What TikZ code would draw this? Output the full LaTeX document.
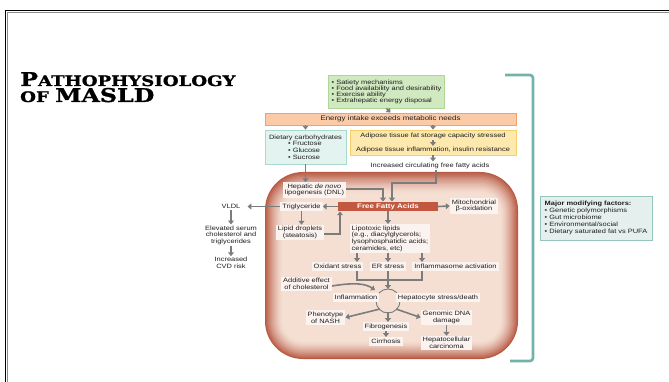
\documentclass[tikz,border=0pt]{standalone}
\usepackage{fontspec}
\usetikzlibrary{arrows.meta,calc}
\newfontfamily\dfam{Liberation Sans}[FakeStretch=1.2]
\newfontfamily\titlefam{DejaVu Serif}[FakeStretch=1.25,BoldFeatures={FakeBold=1.2}]
\newcommand\dsz{\fontsize{6.2}{6.7}\selectfont}
\definecolor{txtc}{HTML}{1E1E1E}
\definecolor{gfill}{HTML}{D1E9C0}\definecolor{gdraw}{HTML}{ADD697}
\definecolor{ofill}{HTML}{FBCBA7}\definecolor{odraw}{HTML}{F5A06A}
\definecolor{bfill}{HTML}{E2F3F0}\definecolor{bdraw}{HTML}{A9D8CF}
\definecolor{yfill}{HTML}{FDE8AE}\definecolor{ydraw}{HTML}{F6CE6A}
\definecolor{boxf}{HTML}{FBF3EF}
\definecolor{ffac}{HTML}{C1583F}
\definecolor{livd}{HTML}{B85A44}\definecolor{livl}{HTML}{F5DFD3}
\definecolor{tealc}{HTML}{72B3A9}
\definecolor{mfill}{HTML}{E5F0EE}\definecolor{mdraw}{HTML}{94C6BD}
\definecolor{arrg}{HTML}{7C7C7C}
\tikzset{
  txt/.style={inner sep=1pt, font=\dfam\dsz, text=txtc},
  lbox/.style={txt, fill=boxf, inner xsep=2pt, inner ysep=1.4pt},
  one/.style={text height=4.5pt, text depth=1.3pt},
  ln/.style={draw=arrg, line width=1.6pt},
  arr/.style={draw=arrg, line width=1.6pt, -{Triangle[length=3.8pt,width=5.8pt]}},
}
\begin{document}
\begin{tikzpicture}[x=1pt,y=-1pt]
\useasboundingbox (0,0) rectangle (669,382);
\fill[white] (0,0) rectangle (669,382);
% slide frame
\draw[black, line width=1.6pt] (5.5,382) -- (5.5,10.5) -- (669,10.5);
\draw[black!45, line width=0.7pt] (7.4,382) -- (7.4,12.4) -- (669,12.4);
% title
\node[anchor=base west, inner sep=0] (t1) at (20,86) {\titlefam\bfseries\fontsize{19}{19}\selectfont P\fontsize{14.5}{14.5}\selectfont ATHOPHYSIOLOGY};
\node[anchor=base west, inner sep=0] (t2) at (20,102) {\titlefam\bfseries\fontsize{14.5}{14.5}\selectfont OF \fontsize{19}{19}\selectfont MASLD};
% liver
\foreach \i in {0,...,18}{
  \pgfmathtruncatemacro\p{100*(1-\i/18)^1.5}
  \pgfmathsetmacro\r{38-\i}
  \fill[livd!\p!livl, rounded corners=\r pt] ({265+\i},{172+1.2*\i}) rectangle ({518-\i},{359-\i});
}
% bracket
\draw[tealc, line width=2.6pt, rounded corners=3pt] (505,75) -- (533,75) -- (533,361) -- (510,361);
% top boxes
\node[txt, fill=gfill, draw=gdraw, line width=0.8pt, minimum width=115pt, inner xsep=3pt, minimum height=33pt, align=left, font=\dfam\fontsize{6.2}{6}\selectfont] (green) at (386.5,91.5)
 {• Satiety mechanisms\\• Food availability and desirability\\• Exercise ability\\• Extrahepatic energy disposal};
\node[txt, fill=ofill, draw=odraw, line width=0.8pt, minimum width=251pt, minimum height=12pt, inner sep=0pt, font=\dfam\fontsize{6.6}{7}\selectfont] (energy) at (390.5,119) {Energy intake exceeds metabolic needs};
\draw[arr] (green.south) -- (energy.north);
\node[txt, fill=bfill, draw=bdraw, line width=0.8pt, minimum width=81pt, minimum height=34pt, align=left, inner sep=2pt, font=\dfam\fontsize{6.2}{6.8}\selectfont] (carb) at (305.5,147)
 {Dietary carbohydrates\\\hspace*{19pt}• Fructose\\\hspace*{19pt}• Glucose\\\hspace*{19pt}• Sucrose};
\node[fill=yfill, draw=ydraw, line width=0.8pt, minimum width=166pt, minimum height=25pt] (yel) at (433,142.5) {};
\node[txt] (y1) at (433,136) {Adipose tissue fat storage capacity stressed};
\node[txt] (y2) at (433,150) {Adipose tissue inflammation, insulin resistance};
\draw[arr] (y1.south) -- (y2.north);
\draw[arr] (energy.south -| carb) -- (carb.north);
\draw[arr] (energy.south -| yel) -- (yel.north);
\node[txt] (incr) at (430,165.5) {Increased circulating free fatty acids};
\draw[arr] (yel.south) -- (incr.north -| yel);
% liver contents
\node[txt, fill=ffac, text=white, minimum width=100pt, minimum height=9.5pt, inner sep=0pt, font=\dfam\bfseries\fontsize{6.6}{7}\selectfont] (ffa) at (388,206.5) {Free Fatty Acids};
\node[lbox, align=center] (dnl) at (314.5,190) {Hepatic \textit{de novo}\\lipogenesis (DNL)};
\coordinate (b1) at (436,183);
\coordinate (b2) at (392,183);
\draw[arr] (incr.south -| b1) -- (b1) -- (b2) -- (b2 |- ffa.north);
\coordinate (b3) at (383,189);
\draw[arr] (dnl.east |- b3) -- (b3) -- (b3 |- ffa.north);
\draw[arr] (carb.south) -- (carb.south |- dnl.north);
\node[lbox, one] (trig) at (301.5,206.5) {Triglyceride};
\draw[arr] (ffa.west) -- (trig.east);
\node[txt] (vldl) at (231,206.5) {VLDL};
\draw[arr] (trig.west) -- ([xshift=6pt]vldl.east);
\node[txt, align=center, font=\dfam\fontsize{6.2}{6.5}\selectfont] (elev) at (231,235) {Elevated serum\\cholesterol and\\triglycerides};
\draw[arr] (vldl.south) -- (elev.north);
\node[txt, align=center] (cvd) at (231,263) {Increased\\CVD risk};
\draw[arr] (elev.south) -- (cvd.north);
\node[lbox, align=center] (lipid) at (300,232.5) {Lipid droplets\\(steatosis)};
\draw[arr] (trig.south) -- (trig.south |- lipid.north);
\coordinate (b4) at (340,234);
\draw[arr] (lipid.east |- b4) -- (b4) -- (b4 |- ffa.south);
\node[lbox, align=center] (mito) at (474,206) {Mitochondrial\\β-oxidation};
\draw[arr] (ffa.east) -- (mito.west);
\node[lbox, align=left] (lipo) at (390,238.5) {Lipotoxic lipids\\(e.g., diacylglycerols;\\lysophosphatidic acids;\\ceramides, etc)};
\draw[arr] (ffa.south) -- (ffa.south |- lipo.north);
\node[lbox, one] (ox) at (337.5,266.5) {Oxidant stress};
\node[lbox, one] (er) at (388,266.5) {ER stress};
\node[lbox, one] (infl) at (455.5,266.5) {Inflammasome activation};
\coordinate (a1) at (357,280);
\coordinate (a2) at (422,280);
\coordinate (a3) at (388,280);
\draw[arr] (lipo.south -| a1) -- (ox.north -| a1);
\draw[arr] (lipo.south -| a3) -- (er.north);
\draw[arr] (lipo.south -| a2) -- (infl.north -| a2);
\draw[ln] (ox.south -| a1) -- (a1) -- (a2) -- (infl.south -| a2);
\coordinate (cyc) at (388,301);
\coordinate (ctop) at (388,289);
\draw[arr] (er.south) -- (ctop);
\node[lbox, align=center] (add) at (306.5,284) {Additive effect\\of cholesterol};
\coordinate (cl) at (375,290);
\draw[arr] ([yshift=-2pt]add.east) .. controls (356,282) and (366,284) .. (cl);
% cycle
\draw[arrg, line width=0.9pt] (cyc) circle (12);
\node[lbox, one] (inflam) at (356,297.5) {Inflammation};
\node[lbox, one] (hep) at (438,297.5) {Hepatocyte stress/death};
\node[lbox, align=center] (nash) at (325.5,317.5) {Phenotype\\of NASH};
\node[lbox, one] (fib) at (386,326.5) {Fibrogenesis};
\node[lbox, align=center] (dna) at (446.5,317.5) {Genomic DNA\\damage};
\node[lbox, one] (cirr) at (386,341.5) {Cirrhosis};
\node[lbox, align=center] (hcc) at (446.5,343) {Hepatocellular\\carcinoma};
\draw[arr] ($(cyc)+(-8,8)$) -- (nash.east);
\draw[arr] ($(cyc)+(0,11)$) -- (fib.north -| cyc);
\draw[arr] ($(cyc)+(8,8)$) -- (dna.west);
\draw[arr] (fib.south) -- (cirr.north);
\draw[arr] (dna.south) -- (hcc.north);
% modifying factors
\node[txt, fill=mfill, draw=mdraw, line width=0.8pt, minimum width=112pt, minimum height=44pt, align=left, font=\dfam\fontsize{6.2}{7}\selectfont] (maj) at (596,218)
 {{\bfseries Major modifying factors:}\\• Genetic polymorphisms\\• Gut microbiome\\• Environmental/social\\• Dietary saturated fat vs PUFA};
\end{tikzpicture}
\end{document}
